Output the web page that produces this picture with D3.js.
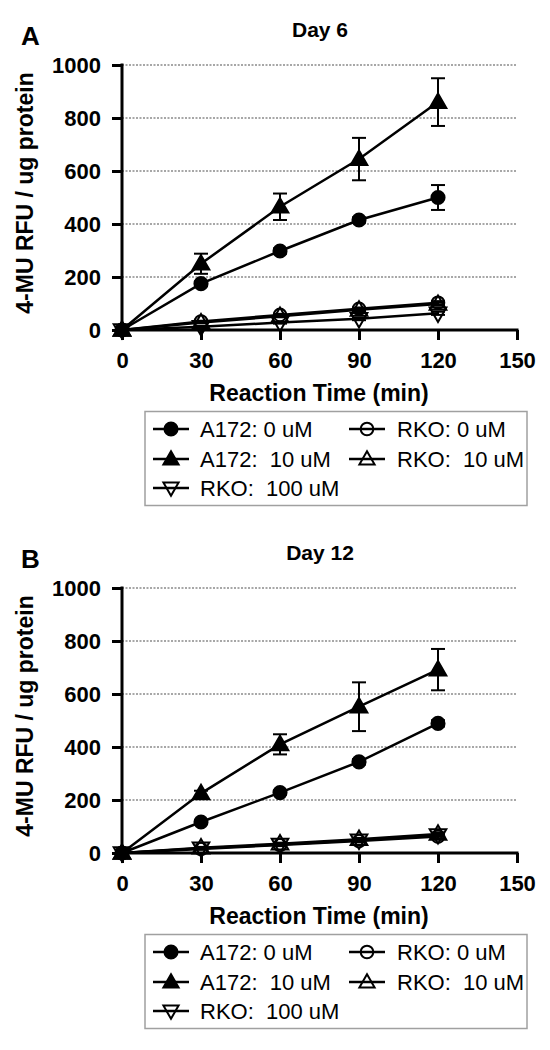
<!DOCTYPE html>
<html>
<head>
<meta charset="utf-8">
<script src="https://cdn.jsdelivr.net/npm/d3@7"></script>
<style>
  html, body { margin: 0; padding: 0; background: #fff; }
  svg { display: block; }
  text { font-family: "Liberation Sans", Arial, Helvetica, sans-serif; fill: #000; }
</style>
</head>
<body>
<svg id="chart" width="550" height="1050"></svg>
<script>
// ---------------- DATA ----------------
const times = [0, 30, 60, 90, 120];
const xTicks = [0, 30, 60, 90, 120, 150];
const yTicks = [0, 200, 400, 600, 800, 1000];

const seriesNames = ["A172: 0 uM", "A172:  10 uM", "RKO:  100 uM", "RKO: 0 uM", "RKO:  10 uM"];
const seriesShapes = ["circle", "triangle", "triangleDown", "circle", "triangle"];
const seriesFilled = [true, true, false, false, false];

// Day 6 (panel A)
const day6_A172_0 = [0, 175, 298, 415, 500];
const day6_A172_0_err = [0, 8, 10, 10, 47];
const day6_A172_10 = [0, 250, 465, 645, 860];
const day6_A172_10_err = [0, 38, 50, 80, 90];
const day6_RKO_0 = [0, 32, 57, 80, 103];
const day6_RKO_0_err = [0, 3, 4, 5, 6];
const day6_RKO_10 = [0, 28, 52, 76, 98];
const day6_RKO_10_err = [0, 3, 4, 5, 6];
const day6_RKO_100 = [0, 12, 28, 42, 63];
const day6_RKO_100_err = [0, 3, 4, 5, 6];

// Day 12 (panel B)
const day12_A172_0 = [0, 117, 228, 344, 489];
const day12_A172_0_err = [0, 6, 8, 10, 12];
const day12_A172_10 = [0, 225, 410, 552, 692];
const day12_A172_10_err = [0, 10, 38, 92, 78];
const day12_RKO_0 = [0, 15, 30, 45, 62];
const day12_RKO_0_err = [0, 3, 4, 5, 6];
const day12_RKO_10 = [0, 20, 35, 52, 72];
const day12_RKO_10_err = [0, 3, 4, 5, 6];
const day12_RKO_100 = [0, 18, 32, 48, 68];
const day12_RKO_100_err = [0, 3, 4, 5, 6];

const panels = [
  { letter: "A", title: "Day 6", dy: 0,
    values: [day6_A172_0, day6_A172_10, day6_RKO_100, day6_RKO_0, day6_RKO_10],
    errors: [day6_A172_0_err, day6_A172_10_err, day6_RKO_100_err, day6_RKO_0_err, day6_RKO_10_err] },
  { letter: "B", title: "Day 12", dy: 523,
    values: [day12_A172_0, day12_A172_10, day12_RKO_100, day12_RKO_0, day12_RKO_10],
    errors: [day12_A172_0_err, day12_A172_10_err, day12_RKO_100_err, day12_RKO_0_err, day12_RKO_10_err] }
];

// ---------------- LAYOUT ----------------
const svg = d3.select("#chart");
const x = d3.scaleLinear().domain([0, 150]).range([122, 517]);
const y = d3.scaleLinear().domain([0, 1000]).range([330, 65]);

function symbolPath(shape, filled, legend) {
  let type = d3.symbolCircle, size = 120;
  if (shape === "triangle" || shape === "triangleDown") { type = d3.symbolTriangle; size = legend ? 100 : 120; }
  if (shape === "circle") size = filled ? 135 : 125;
  return d3.symbol().type(type).size(size)();
}

function drawMarker(g, cx, cy, shape, filled, legend) {
  const rot = shape === "triangleDown" ? " rotate(180)" : "";
  const dyOff = (shape === "triangle") ? 1 : (shape === "triangleDown" ? -1 : 0);
  g.append("path")
    .attr("d", symbolPath(shape, filled, legend))
    .attr("transform", `translate(${cx},${cy + dyOff})${rot}`)
    .attr("fill", filled ? "#000" : "none")
    .attr("stroke", "#000")
    .attr("stroke-width", 2);
}

panels.forEach(p => {
  const g = svg.append("g").attr("transform", `translate(0,${p.dy})`);

  // panel letter & title
  g.append("text").attr("x", 21).attr("y", 45)
    .attr("font-size", 26).attr("font-weight", "bold").text(p.letter);
  g.append("text").attr("x", 320).attr("y", 37).attr("text-anchor", "middle")
    .attr("font-size", 21).attr("font-weight", "bold").text(p.title);

  // grid lines
  g.append("g").selectAll("line").data(yTicks.filter(d => d > 0)).join("line")
    .attr("x1", x(0)).attr("x2", x(150))
    .attr("y1", d => y(d)).attr("y2", d => y(d))
    .attr("stroke", "#8a8a8a").attr("stroke-width", 1.5)
    .attr("stroke-dasharray", "2,1.5");

  // y axis
  const yAxis = g.append("g").attr("transform", `translate(${x(0)},0)`)
    .call(d3.axisLeft(y).tickValues(yTicks).tickSize(10).tickPadding(10).tickFormat(d3.format("d")));
  yAxis.select(".domain").attr("stroke", "#000").attr("stroke-width", 3)
    .attr("d", `M0,${y(0) + 1.5}V${y(1000) - 1.5}`);
  yAxis.selectAll(".tick line").attr("stroke", "#000").attr("stroke-width", 3);
  yAxis.selectAll(".tick text").attr("font-size", 22).attr("font-weight", "bold")
    .attr("font-family", "Liberation Sans, Arial, sans-serif").attr("x", -21);

  // x axis
  const xAxis = g.append("g").attr("transform", `translate(0,${y(0)})`)
    .call(d3.axisBottom(x).tickValues(xTicks).tickSize(10).tickPadding(12).tickFormat(d3.format("d")));
  xAxis.select(".domain").attr("stroke", "#000").attr("stroke-width", 3)
    .attr("d", `M${x(0) - 1.5},0H${x(150) + 1.5}`);
  xAxis.selectAll(".tick line").attr("stroke", "#000").attr("stroke-width", 3);
  xAxis.selectAll(".tick text").attr("font-size", 22).attr("font-weight", "bold")
    .attr("font-family", "Liberation Sans, Arial, sans-serif");

  // axis titles
  g.append("text").attr("x", 319).attr("y", 401).attr("text-anchor", "middle")
    .attr("font-size", 23).attr("font-weight", "bold").text("Reaction Time (min)");
  g.append("text").attr("transform", `translate(33,193) rotate(-90)`)
    .attr("text-anchor", "middle")
    .attr("font-size", 23).attr("font-weight", "bold").text("4-MU RFU / ug protein");

  // lines
  const line = d3.line().x((d, i) => x(times[i])).y(d => y(d));
  p.values.forEach(vals => {
    g.append("path").attr("d", line(vals)).attr("fill", "none")
      .attr("stroke", "#000").attr("stroke-width", 2.5);
  });

  // error bars
  p.values.forEach((vals, si) => {
    vals.forEach((v, i) => {
      const e = p.errors[si][i];
      if (!e) return;
      const cx = x(times[i]);
      const eb = g.append("g").attr("stroke", "#000").attr("stroke-width", 2);
      eb.append("line").attr("x1", cx).attr("x2", cx).attr("y1", y(v + e)).attr("y2", y(v - e));
      eb.append("line").attr("x1", cx - 7).attr("x2", cx + 7).attr("y1", y(v + e)).attr("y2", y(v + e));
      eb.append("line").attr("x1", cx - 7).attr("x2", cx + 7).attr("y1", y(v - e)).attr("y2", y(v - e));
    });
  });

  // markers (open series first, then filled on top)
  const order = [2, 3, 4, 0, 1];
  order.forEach(si => {
    p.values[si].forEach((v, i) => {
      drawMarker(g, x(times[i]), y(v), seriesShapes[si], seriesFilled[si], false);
    });
  });

  // legend
  g.append("rect").attr("x", 145).attr("y", 411.5).attr("width", 382).attr("height", 94)
    .attr("fill", "none").attr("stroke", "#a0a0a0").attr("stroke-width", 1.5);
  const legendPos = [
    { sx: 171, tx: 200, cy: 429 },
    { sx: 171, tx: 200, cy: 459 },
    { sx: 171, tx: 200, cy: 488 },
    { sx: 367, tx: 397, cy: 429 },
    { sx: 367, tx: 397, cy: 459 }
  ];
  seriesNames.forEach((name, si) => {
    const lp = legendPos[si];
    g.append("line").attr("x1", lp.sx - 18).attr("x2", lp.sx + 18)
      .attr("y1", lp.cy).attr("y2", lp.cy).attr("stroke", "#000").attr("stroke-width", 2.5);
    drawMarker(g, lp.sx, lp.cy, seriesShapes[si], seriesFilled[si], true);
    g.append("text").attr("x", lp.tx).attr("y", lp.cy).attr("dy", "0.36em")
      .attr("font-size", 22).style("white-space", "pre").text(name);
  });
});
</script>
</body>
</html>
